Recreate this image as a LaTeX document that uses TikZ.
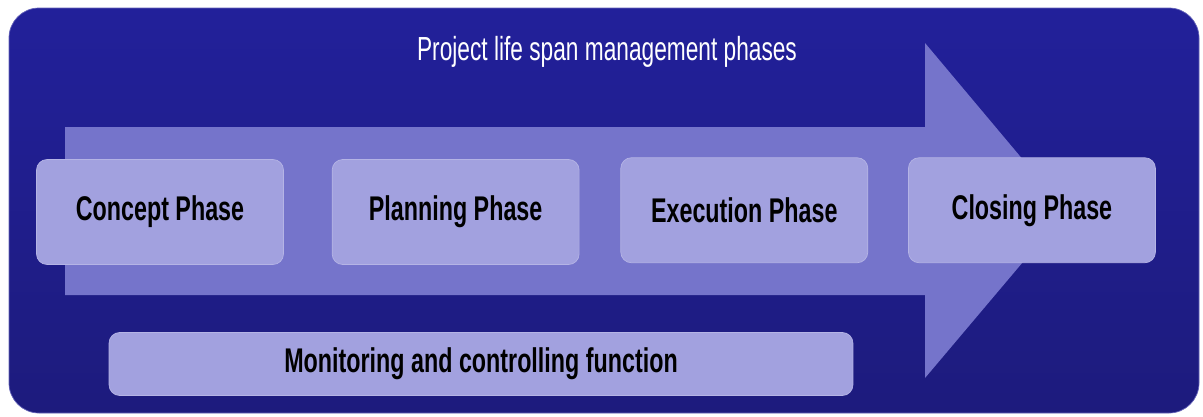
\documentclass[tikz,border=0pt]{standalone}
\usepackage{fontspec}
\setmainfont{Liberation Sans}[FakeStretch=0.68]
\usetikzlibrary{positioning}

\definecolor{panelblue}{RGB}{34,32,154}
\definecolor{paneldark}{RGB}{29,27,125}
\definecolor{arrowblue}{RGB}{117,116,203}
\definecolor{boxblue}{RGB}{162,161,223}

\begin{document}
\begin{tikzpicture}[
    x=0.02cm,
    y=-0.02cm,
    font=\fontsize{19}{22}\selectfont,
    phase/.style={
        fill=boxblue,
        draw=boxblue!80!white,
        rounded corners=6pt,
        minimum width=4.94cm,
        minimum height=2.1cm,
        font=\fontsize{19.5}{22}\selectfont\bfseries,
        align=center
    },
    func/.style={phase, minimum width=14.88cm, minimum height=1.26cm},
    flow/.style={fill=arrowblue}
]
\useasboundingbox (0,0) rectangle (1203,416);

% ============================================================
% PANEL AND ARROW
% ============================================================
\shade[top color=panelblue, bottom color=paneldark, draw=panelblue!70!white,
       rounded corners=0.6cm] (9,8) rectangle (1199,413);
\fill[flow] (65,127) -- (925,127) -- (925,43) -- (1066,211)
    -- (925,378) -- (925,295) -- (65,295) -- cycle;

\node[text=white] (title) at (607,52) {Project life span management phases};

% ============================================================
% PHASES
% ============================================================
\node[phase] (concept) at (160,212) {Concept Phase};
\node[phase, right=0.96cm of concept] (planning) {Planning Phase};
\node[phase, right=0.82cm of planning, yshift=1pt] (execution) {Execution Phase};
\node[phase, right=0.8cm of execution] (closing) {Closing Phase};

% ============================================================
% MONITORING
% ============================================================
\node[func] (monitor) at (481,364) {Monitoring and controlling function};

\end{tikzpicture}
\end{document}
